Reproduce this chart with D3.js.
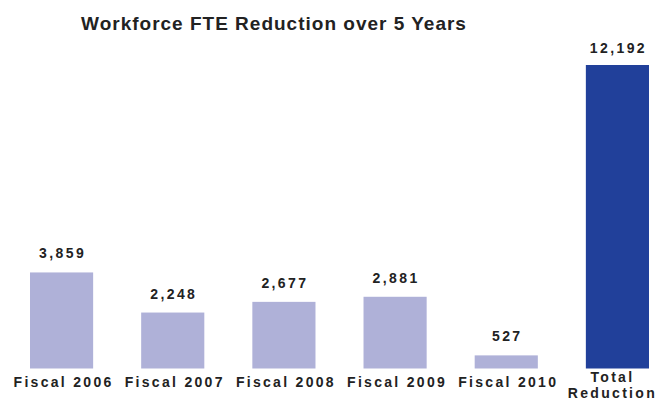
<!DOCTYPE html>
<html>
<head>
<meta charset="utf-8">
<script src="https://cdn.jsdelivr.net/npm/d3@7"></script>
<style>
  body { margin: 0; background: #fff; }
  text { font-family: "Liberation Sans", Arial, sans-serif; font-weight: bold; fill: #222; }
  .title { font-size: 19px; letter-spacing: 1px; }
  .value { font-size: 14px; letter-spacing: 2.4px; }
  .cat { font-size: 14px; letter-spacing: 2.3px; }
</style>
</head>
<body>
<script>
const categories = ["Fiscal 2006", "Fiscal 2007", "Fiscal 2008", "Fiscal 2009", "Fiscal 2010", "Total\nReduction"];
const values = [3859, 2248, 2677, 2881, 527, 12192];
const isTotal = [false, false, false, false, false, true];

const width = 659, height = 401;
const baseline = 368.5, plotTop = 65;

const svg = d3.select("body").append("svg")
  .attr("width", width)
  .attr("height", height);

const x = d3.scaleBand()
  .domain(categories)
  .range([30, 649])
  .paddingInner(0.432)
  .paddingOuter(0);

const y = d3.scaleLinear()
  .domain([0, d3.max(values)])
  .range([baseline, plotTop]);

const fmt = d3.format(",");

svg.append("text")
  .attr("class", "title")
  .attr("x", 274)
  .attr("y", 30)
  .attr("text-anchor", "middle")
  .text("Workforce FTE Reduction over 5 Years");

const data = categories.map((c, i) => ({ c, v: values[i], total: isTotal[i] }));

svg.selectAll("rect.bar")
  .data(data)
  .join("rect")
  .attr("class", "bar")
  .attr("x", d => x(d.c))
  .attr("y", d => y(d.v))
  .attr("width", x.bandwidth())
  .attr("height", d => baseline - y(d.v))
  .attr("fill", d => d.total ? "#21409a" : "#afb1d8");

svg.selectAll("text.value")
  .data(data)
  .join("text")
  .attr("class", "value")
  .attr("x", d => x(d.c) + x.bandwidth() / 2 + 1)
  .attr("y", d => y(d.v) - (d.total ? 12 : 14))
  .attr("text-anchor", "middle")
  .text(d => fmt(d.v));

const cats = svg.selectAll("text.cat")
  .data(data)
  .join("text")
  .attr("class", "cat")
  .attr("text-anchor", "middle")
  .attr("y", d => d.total ? 382 : 387);

cats.selectAll("tspan")
  .data(d => d.c.split("\n").map((line, j) => ({ line, j, d })))
  .join("tspan")
  .attr("x", t => x(t.d.c) + x.bandwidth() / 2 + (t.d.total ? -5 : 2))
  .attr("dy", t => t.j === 0 ? 0 : 16)
  .text(t => t.line);
</script>
</body>
</html>
